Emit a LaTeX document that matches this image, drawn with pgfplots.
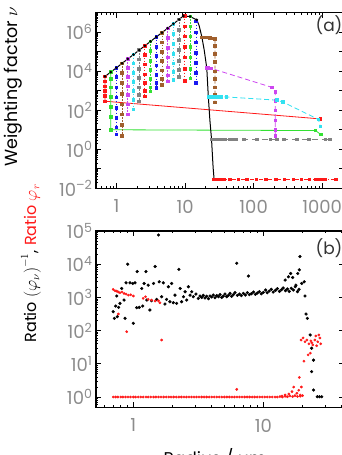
\documentclass[border=0pt]{standalone}
\usepackage{fontspec}
\setmainfont{Poppins}
\usepackage{pgfplots}
\pgfplotsset{compat=1.18}
\definecolor{tickgray}{RGB}{140,140,140}
\definecolor{cRed}{RGB}{255,25,25}
\definecolor{cGreen}{RGB}{50,225,50}
\definecolor{cBlue}{RGB}{25,25,240}
\definecolor{cBrown}{RGB}{160,95,45}
\definecolor{cMag}{RGB}{205,70,240}
\definecolor{cCyan}{RGB}{50,225,240}
\definecolor{cGray}{RGB}{130,130,130}
\pgfplotsset{
  myax/.style={scale only axis,
    axis line style={line width=1.1pt},
    tick style={black, line width=0.8pt},
    major tick length=5pt, minor tick length=2.5pt, tick align=inside,
    xticklabel style={font=\fontsize{18}{18}\selectfont, text=tickgray, yshift=-8pt},
    yticklabel style={font=\fontsize{18}{18}\selectfont, text=tickgray}},
  col/.style={line width=0.8pt, dash pattern=on 1.5pt off 1.5pt, mark=square*, mark size=1.3pt, mark options={solid}},
}
\begin{document}
\begin{tikzpicture}[x=1pt,y=1pt]
\clip (0,0) rectangle (342,455);
% ---------------- panel (a)
\begin{loglogaxis}[myax, at={(96pt,266.7pt)}, anchor=south west, width=248pt, height=175.6pt,
  xmin=0.5, xmax=2085, ymin=1e-2, ymax=1e7,
  ytick={1e-2,1e-1,1,10,1e2,1e3,1e4,1e5,1e6,1e7},
  yticklabels={10\textsuperscript{\textendash2},,10\textsuperscript{0},,10\textsuperscript{2},,10\textsuperscript{4},,10\textsuperscript{6},},
  xtick={1,10,100,1000}, xticklabels={1,10,100,1000},
  minor xtick={0.6,0.7,0.8,0.9,2,3,4,5,6,7,8,9,20,30,40,50,60,70,80,90,200,300,400,500,600,700,800,900,2000}]
% columns
\addplot[cRed, line width=0.8pt, mark=square*, mark size=1.3pt] coordinates {(0.677,5400) (0.677,3000) (0.677,1700) (0.677,1000) (0.677,550) (0.677,290) (940,36)};
\addplot[cGreen, line width=0.8pt, mark=square*, mark size=1.3pt] coordinates {(0.82,9000) (0.82,4000) (0.82,1500) (0.82,500) (0.82,150) (0.82,45) (0.82,10) (800,9.1) (950,5.8)};
\addplot[col, cBlue] coordinates {(0.993,15000) (0.993,5000) (0.993,1500) (0.993,450) (0.993,130) (0.993,40) (0.993,13) (0.993,5.8)};
\addplot[col, cBrown] coordinates {(1.202,25000) (1.202,8000) (1.202,2500) (1.202,700) (1.202,200) (1.202,60) (1.202,18) (1.202,4.7)};
\addplot[col, cMag] coordinates {(1.456,42000) (1.456,15000) (1.456,5000) (1.456,1700) (1.456,600) (1.456,200) (1.456,60)};
\addplot[col, cCyan] coordinates {(1.763,72000) (1.763,25000) (1.763,8000) (1.763,2800) (1.763,1000) (1.763,330) (1.763,110)};
\addplot[col, cGray] coordinates {(2.135,120000) (2.135,40000) (2.135,13000) (2.135,4500) (2.135,1500) (2.135,600) (2.135,290)};
\addplot[col, cRed] coordinates {(2.586,200000) (2.586,70000) (2.586,22000) (2.586,7000) (2.586,2500) (2.586,1000) (2.586,510)};
\addplot[col, cGreen] coordinates {(3.13,340000) (3.13,110000) (3.13,35000) (3.13,12000) (3.13,4000) (3.13,1500) (3.13,930)};
\addplot[col, cBlue] coordinates {(3.79,570000) (3.79,180000) (3.79,60000) (3.79,20000) (3.79,6500) (3.79,2500) (3.79,1400)};
\addplot[col, cBrown] coordinates {(4.59,950000) (4.59,300000) (4.59,100000) (4.59,33000) (4.59,11000) (4.59,4000) (4.59,2000)};
\addplot[col, cMag] coordinates {(5.56,1.6e6) (5.56,5e5) (5.56,1.6e5) (5.56,5e4) (5.56,1.6e4) (5.56,6000) (5.56,3000)};
\addplot[col, cCyan] coordinates {(6.74,2.7e6) (6.74,8e5) (6.74,2.5e5) (6.74,8e4) (6.74,2.5e4) (6.74,9000) (6.74,3700)};
\addplot[col, cGray] coordinates {(8.16,4.5e6) (8.16,1.3e6) (8.16,4e5) (8.16,1.2e5) (8.16,3.5e4) (8.16,1.2e4) (8.16,5000)};
\addplot[col, cRed] coordinates {(9.88,7e6) (9.88,2e6) (9.88,6e5) (9.88,1.8e5) (9.88,5e4) (9.88,1.3e4) (9.88,3300)};
\addplot[col, cGreen] coordinates {(11.97,6.6e6) (11.97,2e6) (11.97,6e5) (11.97,1.8e5) (11.97,5e4) (11.97,1.3e4) (11.97,4200)};
\addplot[col, cBlue] coordinates {(14.5,3.5e6) (14.5,1e6) (14.5,3e5) (14.5,9e4) (14.5,2.7e4) (14.5,8000) (14.5,2500)};
% right-hand series
\addplot[cBrown, line width=0.8pt, dash pattern=on 3pt off 2pt, mark=square*, mark size=1.3pt, mark options={solid}] coordinates {(17.5,5.5e5) (19,5.5e5) (21,5.3e5) (23,5e5) (25,4.8e5) (27.3,4.5e5) (27.3,2e5) (27.3,8e4) (27.3,3e4) (27.3,1e4) (27.3,4000) (27.3,1500) (27.3,600) (27.3,250)};
\addplot[cMag, line width=0.8pt, dash pattern=on 5pt off 3pt, mark=square*, mark size=1.3pt, mark options={solid}] coordinates {(20.7,1.45e4) (22,1.45e4) (24,1.4e4) (184,1500) (207,900) (207,300) (207,100) (207,30) (207,10) (207,4.7)};
\addplot[cCyan, line width=0.8pt, dash pattern=on 5pt off 3pt, mark=square*, mark size=1.3pt, mark options={solid}] coordinates {(21.8,500) (23,500) (24.5,500) (27,495) (30,490) (34,490) (40,480) (217,330) (270,260) (880,34) (940,15)};
\addplot[cGray, line width=0.8pt, dash pattern=on 6pt off 4pt, mark=square*, mark size=1.2pt, mark options={solid}] coordinates {(24.5,3.2) (27,3.2) (30,3.2) (34,3.2) (38,3.2) (44,3.2) (50,3.2) (56,3.2) (72,3.2) (112,3.2) (175,3.2) (220,3.2) (275,3.2) (430,3.2) (640,3.2) (1110,3.2) (1300,3.2)};
\addplot[cRed, line width=0.8pt, dash pattern=on 4pt off 2pt on 1pt off 2pt, mark=square*, mark size=1.3pt, mark options={solid}] coordinates {(26.5,0.028) (30,0.028) (33,0.028) (37,0.028) (45,0.028) (60,0.028) (80,0.028) (110,0.028) (150,0.028) (210,0.028) (280,0.028) (380,0.028) (500,0.028) (650,0.028) (800,0.028) (900,0.028) (1000,0.028) (1100,0.028) (1600,0.028)};
% envelope
\addplot[black, line width=1pt, mark=*, mark size=0.8pt] coordinates {(0.677,5400) (0.82,9000) (0.993,15000) (1.202,25400) (1.456,42700) (1.763,71600) (2.135,120000) (2.586,202000) (3.13,339000) (3.79,569000) (4.59,955000) (5.56,1.6e6) (6.74,2.69e6) (8.16,4.5e6) (9.4,6.8e6) (11.8,6.4e6) (14.8,4.3e6)};
\addplot[black, line width=1pt] coordinates {(14.8,4.3e6) (16,2.2e6) (17.5,6e5) (19,1.2e5) (20.7,1.45e4) (21.8,500) (23,30) (24.3,3.2) (25.6,0.12) (26.5,0.028)};
\end{loglogaxis}
% ---------------- panel (b)
\begin{loglogaxis}[myax, at={(96pt,47.7pt)}, anchor=south west, width=248pt, height=176.3pt,
  xmin=0.516, xmax=41.7, ymin=0.49, ymax=1e5,
  ytick={1,10,100,1000,10000,100000},
  yticklabels={10\textsuperscript{0},10\textsuperscript{1},10\textsuperscript{2},10\textsuperscript{3},10\textsuperscript{4},10\textsuperscript{5}},
  xtick={1,10}, xticklabels={1,10},
  minor xtick={0.6,0.7,0.8,0.9,2,3,4,5,6,7,8,9,20,30,40},
  minor ytick={0.5,0.6,0.7,0.8,0.9,2,3,4,5,6,7,8,9,20,30,40,50,60,70,80,90,200,300,400,500,600,700,800,900,2000,3000,4000,5000,6000,7000,8000,9000,20000,30000,40000,50000,60000,70000,80000,90000}]
% black points
\addplot[only marks, mark=*, mark size=1.4pt, black] coordinates {
(0.70,372) (0.714,234) (0.731,550) (0.745,1100) (0.753,263) (0.771,500) (0.789,661) (0.813,1860) (0.848,832) (0.863,234) (0.879,2750) (0.904,10000) (0.942,2750) (0.989,2630) (1.0,166) (1.03,2750) (1.06,490) (1.07,6000) (1.11,500) (1.16,1860) (1.18,550) (1.21,2630) (1.25,6000) (1.27,832) (1.30,2340) (1.34,417) (1.38,794) (1.43,2630) (1.47,8500) (1.51,871) (1.56,75900) (1.58,2950) (1.65,1050) (1.70,2750) (1.75,631) (1.80,871) (1.86,2090) (1.91,741) (1.97,2630) (2.03,692) (2.09,1170) (2.15,661) (2.24,7000) (2.29,1860) (2.35,741) (2.43,1050) (2.50,1480) (2.57,832) (2.65,2090) (2.73,1170) (2.81,1480) (2.89,1050) (3.03,1260) (3.16,933) (3.26,1100)
(3.36,1000) (3.45,1150) (3.56,960) (3.66,1080) (3.78,916) (3.89,1100) (4.01,1030) (4.12,1180) (4.25,982) (4.38,1130) (4.51,1050) (4.64,1210) (4.78,1000) (4.92,1100) (5.07,1260) (5.22,1050) (5.38,1150) (5.54,1320) (5.70,1080) (5.88,1210) (6.05,1390) (6.31,1150) (6.54,1260) (6.77,1130) (7.02,1320) (7.27,1180) (7.53,1390) (7.80,1210) (8.09,1290) (8.38,1450) (8.68,1240) (8.99,1360) (9.31,1490) (9.65,1290) (10.0,1420) (10.4,1670) (10.7,1390) (11.1,1560) (11.5,1750) (11.9,1450) (12.4,1630) (12.8,1830) (13.3,1520) (13.8,1710) (14.2,1920) (14.8,1600) (15.3,1790) (15.8,1520) (16.4,1880) (17.0,1670) (17.6,2100) (18.3,1490) (18.8,1750)
(6.24,10700) (7.67,4400) (14.7,3330) (15.6,4170) (16.2,5250) (16.8,3980) (17.8,2340) (18.4,5250) (18.9,6760) (19.1,17000) (19.7,2630) (20.6,2950) (20.9,1100) (21.3,316) (21.8,234) (22.9,74) (23.5,29.5) (24.3,12.9) (23.5,5.8) (24.3,1.62) (26.0,1.02) (27.0,1.02) (28.1,1.02)};
% red points
\addplot[only marks, mark=*, mark size=1.15pt, cRed] coordinates {
(0.70,1740) (0.723,1580) (0.745,1550) (0.767,1450) (0.79,1380) (0.818,1450) (0.848,1320) (0.879,1260) (0.915,1170) (0.954,1200) (1.0,1100) (1.19,935) (1.24,1050) (1.30,875) (1.38,830) (1.47,780) (1.56,790) (1.60,690)
(0.767,316) (0.889,93) (1.65,52) (6.24,1.7)
(0.70,1) (0.73,1) (0.76,1) (0.80,1) (0.83,1) (0.87,1) (0.91,1) (0.95,1) (1.00,1) (1.04,1) (1.09,1) (1.14,1) (1.19,1) (1.25,1) (1.30,1) (1.36,1) (1.43,1) (1.49,1) (1.56,1) (1.63,1) (1.71,1) (1.79,1) (1.87,1) (1.95,1) (2.04,1) (2.14,1) (2.24,1) (2.34,1) (2.45,1) (2.56,1) (2.68,1) (2.80,1) (2.93,1) (3.06,1) (3.20,1) (3.35,1) (3.50,1) (3.66,1) (3.83,1) (4.01,1) (4.19,1) (4.38,1) (4.58,1) (4.79,1) (5.01,1) (5.24,1) (5.48,1) (5.73,1) (5.99,1) (6.27,1) (6.55,1) (6.85,1) (7.17,1) (7.50,1) (7.84,1) (8.20,1) (8.57,1) (8.96,1) (9.37,1) (9.80,1) (10.25,1) (10.7,1) (11.2,1) (11.7,1) (12.3,1) (12.8,1) (13.4,1.03) (14.0,1) (14.7,1.05) (15.3,1.02) (16.0,1.08) (16.8,1.03) (17.5,1.1) (18.3,1.04) (19.2,1.06) (20.0,1.1)
(13.9,1.07) (14.7,1.15) (15.7,1.23) (16.6,1.45) (17.1,2.0) (18.1,1.3) (18.7,1.6) (19.2,1.15) (19.6,2.0) (18.9,3.9) (20.5,12) (22.1,18.6) (23.0,21)
(19.5,52) (20.2,60) (20.9,46) (21.6,52) (22.4,40) (23.2,49) (24.0,37) (24.9,52) (25.3,69) (26.2,46) (26.7,74) (27.2,60) (27.6,40) (25.7,35) (23.6,43)};
\end{loglogaxis}
% labels
\node[rotate=90, anchor=west, inner sep=0pt, font=\fontsize{17.5}{17.5}\selectfont] at (13,288) {Weighting factor $\nu$};
\node[rotate=90, anchor=east, inner sep=0pt, font=\fontsize{16}{16}\selectfont] at (31,271) {Ratio $\left(\varphi_{\nu}\right)^{-1}$, \textcolor{cRed}{Ratio $\varphi_{r}$}};
\node[anchor=north, inner sep=0pt, font=\fontsize{17}{17}\selectfont] at (215,7) {Radius / µm};
\node[font=\fontsize{17}{17}\selectfont, text=black!80] at (329,430) {(a)};
\node[font=\fontsize{17}{17}\selectfont, text=black!80] at (329,207) {(b)};
\end{tikzpicture}
\end{document}
